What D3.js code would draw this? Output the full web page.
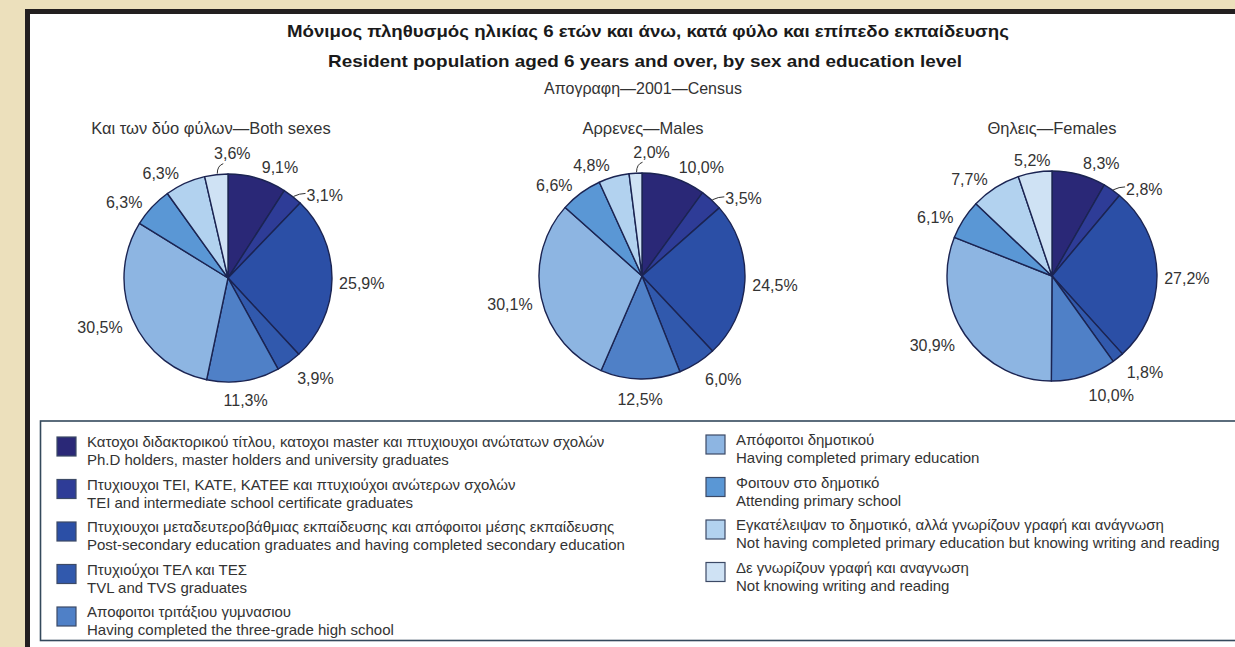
<!DOCTYPE html>
<html><head><meta charset="utf-8">
<script src="https://cdn.jsdelivr.net/npm/d3@7"></script>
<style>
html,body{margin:0;padding:0;background:#ece0bc;}
svg{display:block;}
text{font-family:"Liberation Sans",Arial,sans-serif;}
</style></head>
<body>
<svg id="chart" width="1235" height="647"></svg>
<script>
// ---------- DATA ----------
const titleEl = "Μόνιμος πληθυσμός ηλικίας 6 ετών και άνω, κατά φύλο και επίπεδο εκπαίδευσης";
const titleEn = "Resident population aged 6 years and over, by sex and education level";
const subtitle = "Απογραφη—2001—Census";
const pieTitles = ["Και των δύο φύλων—Both sexes", "Αρρενες—Males", "Θηλεις—Females"];
const categoriesEl = [
  "Κατοχοι διδακτορικού τίτλου, κατοχοι master και πτυχιουχοι ανώτατων σχολών",
  "Πτυχιουχοι ΤΕΙ, ΚΑΤΕ, ΚΑΤΕΕ και πτυχιούχοι ανώτερων σχολών",
  "Πτυχιουχοι μεταδευτεροβάθμιας εκπαίδευσης και απόφοιτοι μέσης εκπαίδευσης",
  "Πτυχιούχοι ΤΕΛ και ΤΕΣ",
  "Αποφοιτοι τριτάξιου γυμνασιου",
  "Απόφοιτοι δημοτικού",
  "Φοιτουν στο δημοτικό",
  "Εγκατέλειψαν το δημοτικό, αλλά γνωρίζουν γραφή και ανάγνωση",
  "Δε γνωρίζουν γραφή και αναγνωση"
];
const categoriesEn = [
  "Ph.D holders, master holders and university graduates",
  "TEI and intermediate school certificate graduates",
  "Post-secondary education graduates and having completed secondary education",
  "TVL and TVS graduates",
  "Having completed the three-grade high school",
  "Having completed primary education",
  "Attending primary school",
  "Not having completed primary education but knowing writing and reading",
  "Not knowing writing and reading"
];
const bothSexes = [9.1, 3.1, 25.9, 3.9, 11.3, 30.5, 6.3, 6.3, 3.6];
const males     = [10.0, 3.5, 24.5, 6.0, 12.5, 30.1, 6.6, 4.8, 2.0];
const females   = [8.3, 2.8, 27.2, 1.8, 10.0, 30.9, 6.1, 7.7, 5.2];
const palette = ["#2a2877", "#2e3c97", "#2b4fa6", "#3159ad", "#4f80c7", "#8db5e2", "#5a97d5", "#b2d2ef", "#cfe2f4"];

// ---------- LAYOUT ----------
const svg = d3.select("#chart");
const W = 1235, H = 647;
svg.append("rect").attr("width", W).attr("height", H).attr("fill", "#ece0bc");
svg.append("rect").attr("x", 27.5).attr("y", 11.5).attr("width", W).attr("height", H)
  .attr("fill", "#ffffff").attr("stroke", "#231f20").attr("stroke-width", 5);

function fitText(sel, width) {
  sel.attr("textLength", width).attr("lengthAdjust", "spacingAndGlyphs");
}
fitText(svg.append("text").attr("x", 648).attr("y", 37).attr("text-anchor", "middle")
  .attr("font-size", 17).attr("font-weight", "bold").attr("fill", "#1a1a1a").text(titleEl), 722);
fitText(svg.append("text").attr("x", 645).attr("y", 67).attr("text-anchor", "middle")
  .attr("font-size", 17).attr("font-weight", "bold").attr("fill", "#1a1a1a").text(titleEn), 634);
svg.append("text").attr("x", 643).attr("y", 94).attr("text-anchor", "middle")
  .attr("font-size", 16).attr("fill", "#333").text(subtitle);

const pies = [
  {values: bothSexes, cx: 228, cy: 278, r: 104, title: pieTitles[0], tx: 211},
  {values: males, cx: 642, cy: 276, r: 103, title: pieTitles[1], tx: 643},
  {values: females, cx: 1052, cy: 276, r: 105, title: pieTitles[2], tx: 1052}
];

const pieGen = d3.pie().sort(null).value(d => d);
const fmt = v => d3.format(".1f")(v).replace(".", ",") + "%";
const LFS = 16;

pies.forEach(p => {
  const g = svg.append("g").attr("transform", `translate(${p.cx},${p.cy})`);
  const arc = d3.arc().innerRadius(0).outerRadius(p.r);
  const arcs = pieGen(p.values);
  g.selectAll("path").data(arcs).join("path")
    .attr("d", arc)
    .attr("fill", (d, i) => palette[i])
    .attr("stroke", "#1b2452").attr("stroke-width", 1.4).attr("stroke-linejoin", "round");

  svg.append("text").attr("x", p.tx).attr("y", 134).attr("text-anchor", "middle")
    .attr("font-size", 16.5).attr("fill", "#333").text(p.title);

  arcs.forEach((d, i) => {
    const a = (d.startAngle + d.endAngle) / 2;
    const s = Math.sin(a), c = Math.cos(a);
    const leader = d.value < 4 && c > 0;
    if (leader) {
      const x0 = p.r * s, y0 = -p.r * c;
      if (s > 0.3) {
        g.append("path").attr("d", `M${x0 + 1},${y0} q6,-3 12,-3`)
          .attr("fill", "none").attr("stroke", "#333").attr("stroke-width", 1);
        g.append("text").attr("x", x0 + 14).attr("y", y0 - 1).attr("dy", "0.35em")
          .attr("font-size", LFS).attr("fill", "#333").text(fmt(d.value));
      } else {
        g.append("path").attr("d", `M${x0 + 1},${y0 - 1} q0,-8 6,-10`)
          .attr("fill", "none").attr("stroke", "#333").attr("stroke-width", 1);
        g.append("text").attr("x", x0 + 16).attr("y", y0 - 21).attr("dy", "0.35em")
          .attr("text-anchor", "middle")
          .attr("font-size", LFS).attr("fill", "#333").text(fmt(d.value));
      }
    } else {
      const R = p.r + 7 + 9 * Math.abs(c);
      const anchor = s > 0.25 ? "start" : (s < -0.25 ? "end" : "middle");
      g.append("text").attr("x", R * s).attr("y", -R * c + 4).attr("dy", "0.35em")
        .attr("text-anchor", anchor)
        .attr("font-size", LFS).attr("fill", "#333").text(fmt(d.value));
    }
  });
});

// ---------- LEGEND ----------
const lg = svg.append("g");
lg.append("rect").attr("x", 40.5).attr("y", 421).attr("width", W).attr("height", 219.5)
  .attr("fill", "none").attr("stroke", "#34495c").attr("stroke-width", 1.6);

const colX = [57, 706];
categoriesEl.forEach((el, i) => {
  const col = i < 5 ? 0 : 1;
  const row = i < 5 ? i : i - 5;
  const x = colX[col];
  const y0 = col === 0 ? 437 + row * 42.5 : 435 + row * 42.5;
  lg.append("rect").attr("x", x).attr("y", y0).attr("width", 19).attr("height", 19)
    .attr("fill", palette[i]).attr("stroke", "#3c4a66").attr("stroke-width", 1.2);
  lg.append("text").attr("x", x + 30).attr("y", y0 + 10).attr("font-size", 15).attr("fill", "#333").text(el);
  lg.append("text").attr("x", x + 30).attr("y", y0 + 28).attr("font-size", 15).attr("fill", "#333").text(categoriesEn[i]);
});
</script>
</body></html>
